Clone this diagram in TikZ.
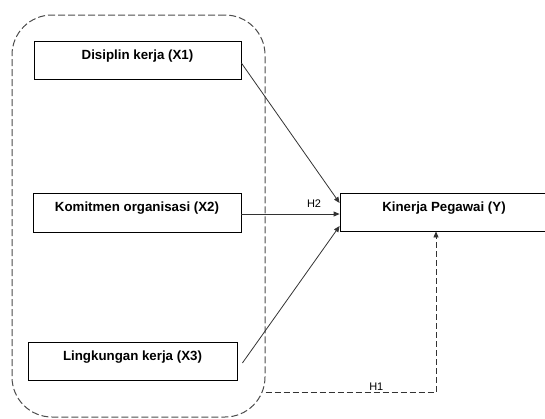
\documentclass[tikz,border=0pt]{standalone}
\usepackage{fontspec}
\setmainfont{Liberation Sans}
\usetikzlibrary{arrows.meta,positioning}

\tikzset{
  varbox/.style={draw=black,line width=0.8pt,minimum width=207pt,inner ysep=0pt,
    text height=18.5pt,text depth=19.5pt,font=\bfseries\fontsize{13.3}{16}\selectfont},
  grpbox/.style={draw=black!70,line width=1pt,dash pattern=on 7pt off 3pt,rounded corners=40pt},
  hyparrow/.style={draw=black!80,line width=0.8pt,-{Triangle[length=6pt,width=5pt]}},
  dasharrow/.style={hyparrow,dash pattern=on 6pt off 3pt},
  hlabel/.style={font=\fontsize{11}{13}\selectfont,inner sep=0pt,anchor=base}
}

\begin{document}
\begin{tikzpicture}[x=1pt,y=-1pt]
		\useasboundingbox (0,0) rectangle (545,418);
		% group of independent variables
		\node[grpbox,minimum width=253pt,minimum height=402pt] (kelompok) at (138.5,216) {};
		% variables
		\node[varbox] (disiplin) at (137.5,60) {Disiplin kerja (X1)};
		\node[varbox,minimum width=208pt,text depth=20.5pt] (komitmen) at (137,212.5) {Komitmen organisasi (X2)};
		\node[varbox,minimum width=209pt] (lingkungan) at (132.5,361) {Lingkungan kerja (X3)};
		\node[varbox,minimum width=208pt] (kinerja) at (444,212) {Kinerja Pegawai (Y)};
		% hypotheses
		\draw[hyparrow] ([yshift=-3pt]disiplin.east) -- ([yshift=9pt]kinerja.west);
		\draw[hyparrow] ([yshift=-1.5pt]komitmen.east) -- ([yshift=-2pt]kinerja.west)
			node[hlabel,pos=0.74,yshift=7pt] {H2};
		\draw[hyparrow] ([xshift=5pt,yshift=-2pt]lingkungan.east) -- ([yshift=-14pt]kinerja.west);
		\coordinate (h1start) at (kelompok.east |- 0,392);
		\draw[dasharrow] (h1start) -| ([xshift=-8pt]kinerja.south)
			node[hlabel,pos=0.325,yshift=2pt] {H1};
	\end{tikzpicture}
\end{document}
